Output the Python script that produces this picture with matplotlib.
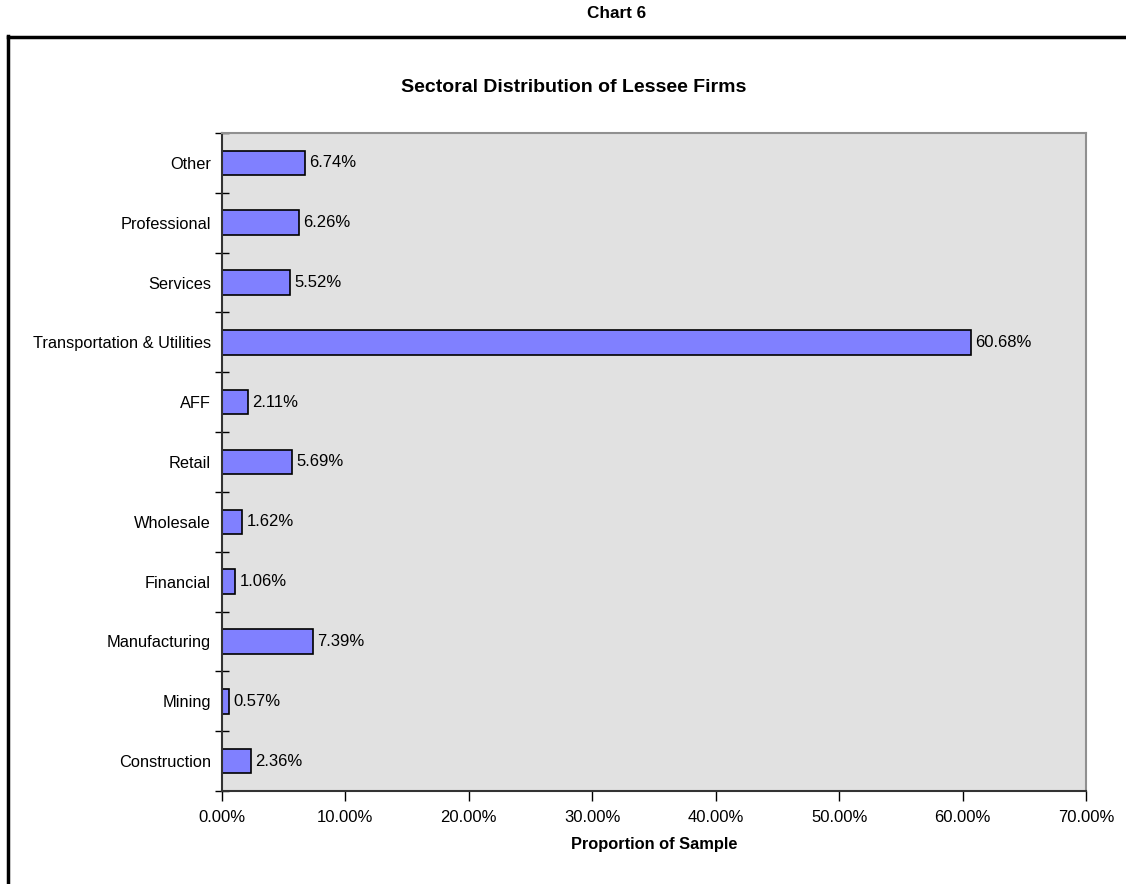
import matplotlib.pyplot as plt
from matplotlib.lines import Line2D
from matplotlib.ticker import FixedLocator, PercentFormatter

plt.rcParams["font.family"] = ["Liberation Sans", "DejaVu Sans"]

# ── data (bottom to top) ──────────────────────────────────────────────────────
sectors = [
    "Construction", "Mining", "Manufacturing", "Financial", "Wholesale",
    "Retail", "AFF", "Transportation & Utilities", "Services",
    "Professional", "Other",
]
shares = [2.36, 0.57, 7.39, 1.06, 1.62, 5.69, 2.11, 60.68, 5.52, 6.26, 6.74]
x_ticks = [0, 10, 20, 30, 40, 50, 60, 70]

W, H = 1126, 884
fig = plt.figure(figsize=(W / 100, H / 100), dpi=100)
ax = fig.add_axes([222 / W, 1 - 791 / H, (1086 - 222) / W, (791 - 133) / H])
ax.set_facecolor("#e1e1e1")

pos = list(range(len(sectors)))
ax.barh(pos, shares, height=0.41, color="#8080ff", edgecolor="black", lw=1.2)
for y, v in zip(pos, shares):
    ax.text(v + 0.35, y, f"{v:.2f}%", va="center", ha="left", fontsize=12)

ax.set_xlim(0, 70)
ax.set_ylim(-0.5, len(sectors) - 0.5)
ax.set_xticks(x_ticks)
ax.xaxis.set_major_formatter(PercentFormatter(decimals=2))
ax.set_yticks(pos)
ax.set_yticklabels(sectors)
ax.yaxis.set_minor_locator(FixedLocator([p - 0.5 for p in pos] + [len(pos) - 0.5]))
ax.tick_params(axis="y", which="major", length=0, pad=8, labelsize=11.8)
ax.tick_params(axis="y", which="minor", direction="inout", length=10, width=1)
ax.tick_params(axis="x", direction="out", length=7, width=1, pad=7, labelsize=12)

for side in ("top", "right"):
    ax.spines[side].set_color("#909090")
    ax.spines[side].set_linewidth(1.5)
for side in ("left", "bottom"):
    ax.spines[side].set_color("#333333")
    ax.spines[side].set_linewidth(1.5)

ax.set_xlabel("Proportion of Sample", fontsize=11.8, fontweight="bold", labelpad=8)

# titles and the outer frame
fig.text(617 / W, 1 - 14 / H, "Chart 6", ha="center", va="center",
         fontsize=12.3, fontweight="bold")
fig.text(574 / W, 1 - 87 / H, "Sectoral Distribution of Lessee Firms",
         ha="center", va="center", fontsize=14, fontweight="bold")
fig.add_artist(Line2D([8 / W, 1], [1 - 37 / H, 1 - 37 / H], color="black", lw=2.5))
fig.add_artist(Line2D([8 / W, 8 / W], [0, 1 - 36 / H], color="black", lw=2.5))

fig.savefig("out.png", dpi=100)
